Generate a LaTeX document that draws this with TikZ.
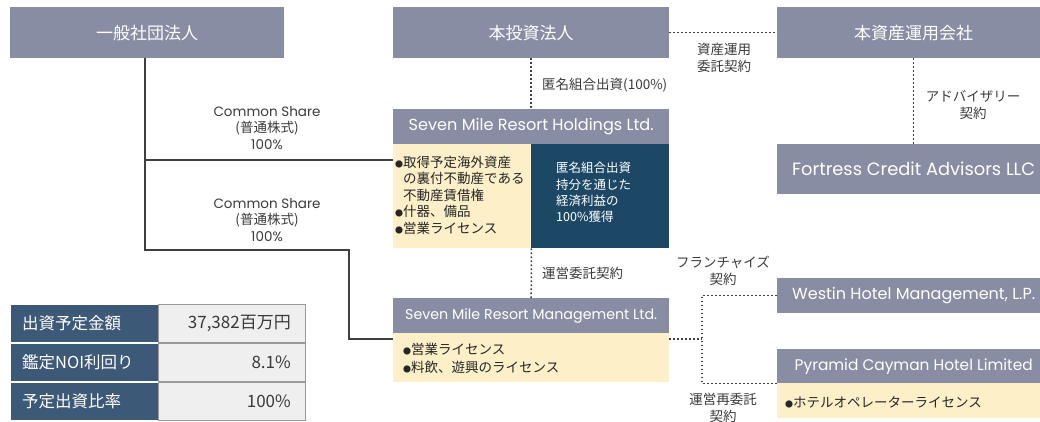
\documentclass[tikz,border=0pt]{standalone}
\usepackage{fontspec}
\usepackage{graphicx}
\setmainfont{Noto Sans CJK JP}
\newfontfamily\lat{Poppins}
\newcommand\bul{{\fontsize{8}{8}\selectfont ●}}
\definecolor{hdr}{HTML}{888DA3}
\definecolor{navy}{HTML}{1D4865}
\definecolor{tbl}{HTML}{3C5977}
\definecolor{cream}{HTML}{FDEFC8}
\definecolor{light}{HTML}{EFEFEF}
\definecolor{txt}{HTML}{3A3A3A}
\definecolor{ln}{HTML}{3F3F3F}
\tikzset{
  hbox/.style={fill=hdr, text=white, inner sep=0pt, anchor=north west, font=\fontsize{17}{19}\selectfont},
  cbox/.style={fill=cream, text=black!85, inner sep=0pt, anchor=north west},
  lbl/.style={text=txt, font=\fontsize{13.5}{16.5}\selectfont, align=center, inner sep=0pt},
  dotl/.style={draw=ln, dash pattern=on 1.6pt off 2.4pt, line width=1.5pt},
  solidl/.style={draw=ln, line width=1.3pt},
  tl/.style={fill=tbl, text=white, inner sep=0pt, anchor=north west, minimum width=148pt, minimum height=38pt, draw=white, line width=1pt},
  tr/.style={fill=light, text=txt, inner sep=0pt, anchor=north west, minimum width=147pt, minimum height=38pt, draw=black!40, line width=0.8pt},
  tlt/.style={anchor=west, text=white, inner sep=0pt, font=\fontsize{16.5}{18}\selectfont},
  trt/.style={anchor=east, text=txt, inner sep=0pt, font=\fontsize{17}{19}\selectfont},
}
\begin{document}
\begin{tikzpicture}[x=1pt,y=-1pt]
\useasboundingbox (0,0) rectangle (1040,421);
\clip (0,0) rectangle (1040,421);
% top boxes
\node[hbox, minimum width=274pt, minimum height=51pt] (ippan) at (10,7) {一般社団法人};
\node[hbox, minimum width=276pt, minimum height=51pt] (toushi) at (393,7) {本投資法人};
\node[hbox, minimum width=273pt, minimum height=51pt] (unyou) at (777,7) {本資産運用会社};
% holdings
\node[hbox, minimum width=276pt, minimum height=35pt] (holdh) at (393,109) {\resizebox{245pt}{!}{\lat Seven Mile Resort Holdings Ltd.}};
\node[cbox, minimum width=138pt, minimum height=104pt] (holdy) at (393,144) {};
\node[fill=navy, inner sep=0pt, anchor=north west, minimum width=138pt, minimum height=104pt] (holdd) at (531,144) {};
\node[anchor=west, inner sep=0pt, align=left, text=black!85, font=\fontsize{13.5}{16.5}\selectfont] (holdtxt) at (395,195) {\bul 取得予定海外資産\\\hspace*{8pt}の裏付不動産である\\\hspace*{8pt}不動産賃借権\\\bul 什器、備品\\\bul 営業ライセンス};
\node[anchor=west, inner sep=0pt, align=left, text=white, font=\fontsize{12.5}{16.3}\selectfont] (holdtxt2) at (556,192.5) {匿名組合出資\\持分を通じた\\経済利益の\\100\%獲得};
% fortress
\node[hbox, minimum width=273pt, minimum height=50pt] (fort) at (777,144) {\resizebox{243pt}{!}{\lat Fortress Credit Advisors LLC}};
% management
\node[hbox, minimum width=276pt, minimum height=35pt] (mgmth) at (393,298) {\resizebox{252pt}{!}{\lat Seven Mile Resort Management Ltd.}};
\node[cbox, minimum width=276pt, minimum height=49pt] (mgmtb) at (393,333) {};
\node[anchor=west, inner sep=0pt, align=left, text=black!85, font=\fontsize{13.5}{18}\selectfont] (mgmttxt) at (403,358) {\bul 営業ライセンス\\\bul 料飲、遊興のライセンス};
% westin & pyramid
\node[hbox, minimum width=273pt, minimum height=35pt] (westin) at (777,278) {\resizebox{243pt}{!}{\lat Westin Hotel Management, L.P.}};
\node[hbox, minimum width=273pt, minimum height=34pt] (pyrh) at (777,349) {\resizebox{238pt}{!}{\lat Pyramid Cayman Hotel Limited}};
\node[cbox, minimum width=273pt, minimum height=35pt] (pyrb) at (777,383) {};
\node[anchor=west, inner sep=0pt, text=black!85, font=\fontsize{13.5}{16}\selectfont] (pyrtxt) at (785,402) {\bul ホテルオペレーターライセンス};
% table
\node[tl] (t1l) at (10,304) {};
\node[tl] (t2l) at (10,343) {};
\node[tl] (t3l) at (10,382) {};
\node[tr] (t1r) at (158,304) {};
\node[tr] (t2r) at (158,343) {};
\node[tr] (t3r) at (158,382) {};
\node[tlt] at (22,323) {出資予定金額};
\node[tlt] at (22,362) {鑑定NOI利回り};
\node[tlt] at (22,401) {予定出資比率};
\node[trt] at (291,323) {37,382百万円};
\node[trt] at (291,362) {8.1\%};
\node[trt] at (291,401) {100\%};
% solid connectors
\coordinate (b1) at (145,160);
\coordinate (b2) at (145,250);
\coordinate (b3) at (349,250);
\coordinate (b4) at (349,339);
\draw[solidl] (ippan.south -| b1) -- (b2) -- (b3) -- (b4) -- (b4 -| mgmtb.west);
\draw[solidl] (b1) -- (b1 -| holdy.west);
\node[lbl] at (267,128) {{\lat Common Share}\\(普通株式)\\{\lat 100\%}};
\node[lbl] at (267,220) {{\lat Common Share}\\(普通株式)\\{\lat 100\%}};
% dotted connectors
\draw[dotl] (toushi.south) -- (holdh.north);
\node[lbl, anchor=west] at (542,85) {匿名組合出資(100\%)};
\draw[dotl] (toushi.east) -- (unyou.west);
\node[lbl] at (724,58) {資産運用\\委託契約};
\draw[dotl] (unyou.south) -- (fort.north);
\node[lbl] at (973,105) {アドバイザリー\\契約};
\draw[dotl] (holdy.south east) -- (mgmth.north);
\node[lbl, anchor=west] at (542,273) {運営委託契約};
\coordinate (j) at (702,339);
\draw[dotl] (mgmtb.east |- j) -- (j);
\draw[dotl] (westin.west) -| (j) |- (pyrh.south west);
\node[lbl] at (723,271) {フランチャイズ\\契約};
\node[lbl] at (723,408) {運営再委託\\契約};
\end{tikzpicture}
\end{document}
